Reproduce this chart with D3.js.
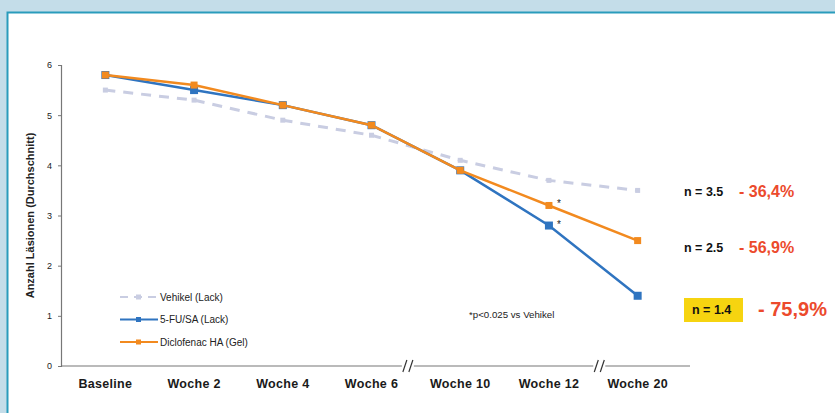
<!DOCTYPE html>
<html>
<head>
<meta charset="utf-8">
<script src="https://cdn.jsdelivr.net/npm/d3@7"></script>
<style>
  html, body { margin: 0; padding: 0; background: #c4dde9; }
  svg { display: block; font-family: "Liberation Sans", Arial, sans-serif; }
</style>
</head>
<body>
<svg id="chart" width="835" height="413"></svg>
<script>
// Mean number of lesions per visit
const categories = ["Baseline", "Woche 2", "Woche 4", "Woche 6", "Woche 10", "Woche 12", "Woche 20"];
const vehikel    = [5.5, 5.3, 4.9, 4.6, 4.1, 3.7, 3.5];
const fuSa       = [5.8, 5.5, 5.2, 4.8, 3.9, 2.8, 1.4];
const diclofenac = [5.8, 5.6, 5.2, 4.8, 3.9, 3.2, 2.5];
const yTicks     = [0, 1, 2, 3, 4, 5, 6];
const seriesNames = ["Vehikel (Lack)", "5-FU/SA (Lack)", "Diclofenac HA (Gel)"];
const endLabels = [
  { n: "n = 3.5", pct: "- 36,4%" },
  { n: "n = 2.5", pct: "- 56,9%" },
  { n: "n = 1.4", pct: "- 75,9%" }
];
const significant = ["Woche 12"];

const svg = d3.select("#chart");

// White panel with teal frame
svg.append("rect").attr("x", 7.5).attr("y", 12.5).attr("width", 840).attr("height", 420)
  .attr("fill", "#ffffff").attr("stroke", "#2a9cbc").attr("stroke-width", 2);

const plotLeft = 61, plotRight = 682, plotTop = 65, plotBottom = 366;
const x = d3.scaleBand().domain(categories).range([plotLeft, plotRight]);
const y = d3.scaleLinear().domain([0, 6]).range([plotBottom, plotTop]);
const cx = c => x(c) + x.bandwidth() / 2;

// Y axis
const yAxis = svg.append("g").attr("transform", `translate(${plotLeft},0)`)
  .call(d3.axisLeft(y).tickValues(yTicks).tickSize(3).tickFormat(d3.format("d")));
yAxis.select(".domain").attr("stroke", "#777").attr("stroke-width", 1.2);
yAxis.selectAll(".tick line").attr("stroke", "#777");
yAxis.selectAll("text").attr("font-size", 9).attr("fill", "#222").attr("dx", -3);

// X axis line (ticks hidden), with break marks
svg.append("line").attr("x1", plotLeft).attr("x2", 690).attr("y1", plotBottom).attr("y2", plotBottom)
  .attr("stroke", "#777").attr("stroke-width", 1.2);
const xAxis = svg.append("g").attr("transform", `translate(0,${plotBottom})`)
  .call(d3.axisBottom(x).tickSize(0).tickPadding(13));
xAxis.select(".domain").remove();
xAxis.selectAll("text").attr("font-size", 12.5).attr("font-weight", "bold").attr("fill", "#1a1a1a")
  .attr("letter-spacing", 0.3);

function breakMark(xc) {
  svg.append("rect").attr("x", xc - 6).attr("y", plotBottom - 4).attr("width", 12).attr("height", 8).attr("fill", "#fff");
  [-3, 3].forEach(o => svg.append("line")
    .attr("x1", xc + o - 2).attr("x2", xc + o + 2).attr("y1", plotBottom + 6).attr("y2", plotBottom - 6)
    .attr("stroke", "#333").attr("stroke-width", 1.2));
}
breakMark((cx("Woche 6") + cx("Woche 10")) / 2 - 8);
breakMark((cx("Woche 12") + cx("Woche 20")) / 2 + 6);

// Y axis title
svg.append("text").attr("transform", `translate(34,${(plotTop + plotBottom) / 2}) rotate(-90)`)
  .attr("text-anchor", "middle").attr("font-size", 11).attr("font-weight", "bold").attr("fill", "#222")
  .text("Anzahl Läsionen (Durchschnitt)");

const line = d3.line().x((d, i) => cx(categories[i])).y(d => y(d));

const series = [
  { values: vehikel, color: "#c9cde2", width: 3, dash: "10,8", marker: 5 },
  { values: fuSa, color: "#2f74c0", width: 2.5, dash: null, marker: 8 },
  { values: diclofenac, color: "#f28a1f", width: 2.5, dash: null, marker: 7 }
];

series.forEach(s => {
  svg.append("path").datum(s.values).attr("d", line).attr("fill", "none")
    .attr("stroke", s.color).attr("stroke-width", s.width)
    .attr("stroke-dasharray", s.dash);
  svg.selectAll(null).data(s.values).enter().append("rect")
    .attr("x", (d, i) => cx(categories[i]) - s.marker / 2)
    .attr("y", d => y(d) - s.marker / 2)
    .attr("width", s.marker).attr("height", s.marker)
    .attr("fill", s.color);
});

// Significance markers
significant.forEach(c => {
  const i = categories.indexOf(c);
  [fuSa[i], diclofenac[i]].forEach(v => {
    svg.append("text").attr("x", cx(c) + 8).attr("y", y(v) + 2)
      .attr("font-size", 10).attr("fill", "#222").text("*");
  });
});

// Legend
const legend = svg.append("g").attr("transform", "translate(120,297)");
series.forEach((s, i) => {
  const g = legend.append("g").attr("transform", `translate(0,${i * 22.5})`);
  g.append("line").attr("x1", 0).attr("x2", 38).attr("y1", 0).attr("y2", 0)
    .attr("stroke", s.color).attr("stroke-width", 2).attr("stroke-dasharray", s.dash ? "8,6" : null);
  g.append("rect").attr("x", 16).attr("y", -2.5).attr("width", 5).attr("height", 5).attr("fill", s.color);
  g.append("text").attr("x", 40).attr("y", 3.5).attr("font-size", 10).attr("fill", "#222").text(seriesNames[i]);
});

svg.append("text").attr("x", 469).attr("y", 318).attr("font-size", 9.7).attr("fill", "#222")
  .text("*p<0.025 vs Vehikel");

// End-of-study annotations
const labelY = [192, 248, 310];
endLabels.forEach((l, i) => {
  if (i === 2) {
    svg.append("rect").attr("x", 684).attr("y", 298).attr("width", 59).attr("height", 24).attr("fill", "#f6d410");
    svg.append("text").attr("x", 692).attr("y", labelY[i] + 4).attr("font-size", 12.5).attr("font-weight", "bold")
      .attr("fill", "#111").text(l.n);
    svg.append("text").attr("x", 758).attr("y", labelY[i] + 6).attr("font-size", 20).attr("font-weight", "bold")
      .attr("fill", "#ec4a2c").text(l.pct);
  } else {
    svg.append("text").attr("x", 684).attr("y", labelY[i] + 4).attr("font-size", 12.5).attr("font-weight", "bold")
      .attr("fill", "#111").text(l.n);
    svg.append("text").attr("x", 739).attr("y", labelY[i] + 5).attr("font-size", 16).attr("font-weight", "bold")
      .attr("fill", "#ec4a2c").text(l.pct);
  }
});
</script>
</body>
</html>
